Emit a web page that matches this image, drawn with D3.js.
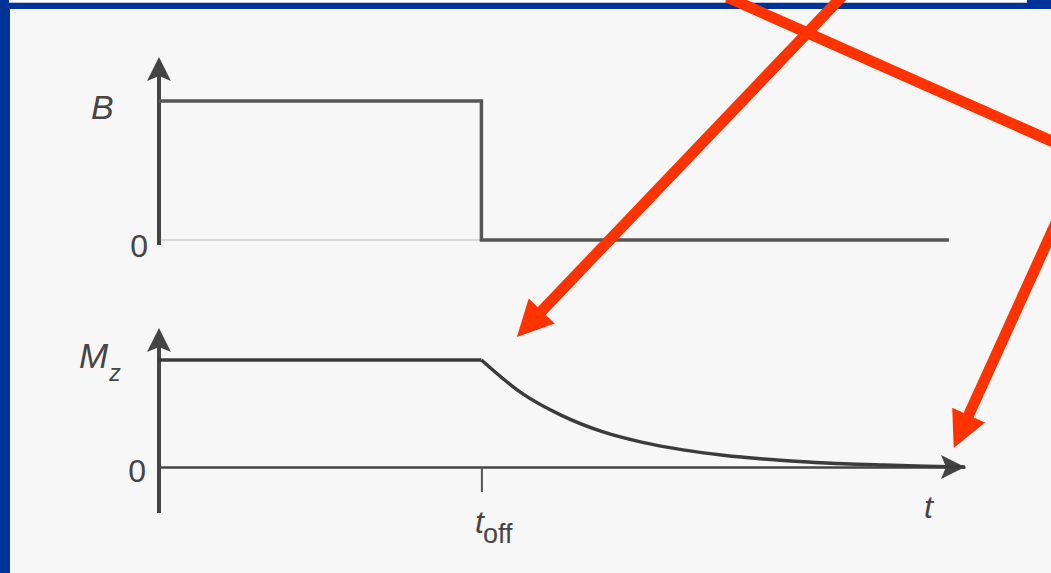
<!DOCTYPE html>
<html>
<head>
<meta charset="utf-8">
<script src="https://cdn.jsdelivr.net/npm/d3@7"></script>
<style>
  html, body { margin: 0; padding: 0; background: #f7f7f7; }
  svg { display: block; }
  text { font-family: "Liberation Sans", Arial, sans-serif; fill: #454545; }
</style>
</head>
<body>
<svg id="chart" width="1051" height="573"></svg>
<script>
// B field: on until t_off, then off
const bTimes = [0, 4, 4, 9.8]
const bValues = [1, 1, 0, 0]

// Mz: flat, then decays after t_off
const mzTimes = [0, 4, 4.5, 5, 5.5, 6, 6.5, 7, 7.5, 8, 8.5, 9, 9.5, 10]
const mzValues = [1, 1, 0.69, 0.48, 0.33, 0.23, 0.16, 0.11, 0.075, 0.05, 0.03, 0.018, 0.008, 0]

const tOff = 4
const tMax = 10

// red overlay arrows, in (t, Mz) units of the lower panel
const arrowTails = [[8.49, 4.41], [7.05, 4.39], [11.2, 2.4]]
const arrowTips = [[4.44, 1.215], [11.18, 3.01], [9.86, 0.178]]
const arrowHasHead = [true, false, true]

const svg = d3.select("#chart")
const W = 1051, H = 573
const ink = "#444"

// background + blue slide frame
svg.append("rect").attr("width", W).attr("height", H).attr("fill", "#f7f7f7")
svg.append("rect").attr("x", 0).attr("y", 0).attr("width", 10).attr("height", H).attr("fill", "#003399")
svg.append("rect").attr("x", 0).attr("y", 0).attr("width", W).attr("height", 9).attr("fill", "#003399")
svg.append("rect").attr("x", 9).attr("y", 0).attr("width", 1018).attr("height", 2.7).attr("fill", "#ffffff")

const x = d3.scaleLinear().domain([0, tMax]).range([159, 965])
const yB = d3.scaleLinear().domain([0, 1]).range([240, 101])
const yM = d3.scaleLinear().domain([0, 1]).range([467, 360])

const line = d3.line()

// arrowhead pointing up/right with a slight notch
function headUp(cx, tipY) {
    return `M${cx},${tipY} L${cx + 12},${tipY + 24} L${cx},${tipY + 19} L${cx - 12},${tipY + 24} Z`
}
function headRight(tipX, cy) {
    return `M${tipX},${cy} L${tipX - 24},${cy + 12} L${tipX - 19},${cy} L${tipX - 24},${cy - 12} Z`
}

// ---- top panel (B) ----
const panelB = svg.append("g")
panelB.append("line")
    .attr("x1", x(0)).attr("x2", x(tOff))
    .attr("y1", yB(0)).attr("y2", yB(0))
    .attr("stroke", "#cfcfcf").attr("stroke-width", 1.5)
panelB.append("line")
    .attr("x1", x(0)).attr("x2", x(0))
    .attr("y1", yB(-0.036)).attr("y2", yB(1.29))
    .attr("stroke", ink).attr("stroke-width", 4)
panelB.append("path").attr("d", headUp(x(0), yB(1.317))).attr("fill", ink)
panelB.append("path")
    .attr("d", line(bTimes.map((t, i) => [x(t), yB(bValues[i])])))
    .attr("fill", "none").attr("stroke", "#555").attr("stroke-width", 3.5)
panelB.append("text").attr("x", 91).attr("y", 119)
    .attr("font-size", 34).attr("font-style", "italic").text("B")
panelB.append("text").attr("x", 148).attr("y", 257).attr("text-anchor", "end")
    .attr("font-size", 32).text("0")

// ---- bottom panel (Mz) ----
const panelM = svg.append("g")
panelM.append("line")
    .attr("x1", x(0)).attr("x2", x(0))
    .attr("y1", yM(-0.43)).attr("y2", yM(1.26))
    .attr("stroke", ink).attr("stroke-width", 4)
panelM.append("path").attr("d", headUp(x(0), yM(1.30))).attr("fill", ink)

// time axis with only the t_off tick
const tAxis = panelM.append("g")
    .attr("transform", `translate(0,${yM(0)})`)
    .call(d3.axisBottom(x).tickValues([tOff]).tickFormat("").tickSize(25).tickSizeOuter(0))
tAxis.select(".domain").attr("stroke", ink).attr("stroke-width", 2.5)
tAxis.selectAll(".tick line").attr("stroke", "#555").attr("stroke-width", 2)
panelM.append("path").attr("d", headRight(x(tMax), yM(0))).attr("fill", ink)

const flat = mzTimes.map((t, i) => [t, mzValues[i]]).filter(d => d[0] <= tOff)
const decay = mzTimes.map((t, i) => [t, mzValues[i]]).filter(d => d[0] >= tOff)
panelM.append("path")
    .attr("d", line(flat.map(d => [x(d[0]), yM(d[1])])))
    .attr("fill", "none").attr("stroke", "#3b3b3b").attr("stroke-width", 3.5)
panelM.append("path")
    .attr("d", d3.line().curve(d3.curveMonotoneX)(decay.map(d => [x(d[0]), yM(d[1])])))
    .attr("fill", "none").attr("stroke", "#3b3b3b").attr("stroke-width", 3.5)

const mz = panelM.append("text").attr("x", 79).attr("y", 368).attr("font-size", 35).attr("font-style", "italic")
mz.append("tspan").text("M")
mz.append("tspan").attr("font-size", 23).attr("dx", 1).attr("dy", 13).text("z")
panelM.append("text").attr("x", 146).attr("y", 482).attr("text-anchor", "end")
    .attr("font-size", 32).text("0")

const toff = panelM.append("text").attr("x", 475).attr("y", 533).attr("font-size", 32)
toff.append("tspan").attr("font-style", "italic").text("t")
toff.append("tspan").attr("font-size", 27).attr("dx", -1).attr("dy", 10).text("off")
panelM.append("text").attr("x", 924).attr("y", 518).attr("font-size", 32)
    .attr("font-style", "italic").text("t")

// ---- red overlay arrows ----
const red = "#ff3300"
const ov = svg.append("g")
arrowTails.forEach((tail, i) => {
    const p0 = [x(tail[0]), yM(tail[1])]
    const p1 = [x(arrowTips[i][0]), yM(arrowTips[i][1])]
    const dx = p1[0] - p0[0], dy = p1[1] - p0[1]
    const len = Math.hypot(dx, dy)
    const ux = dx / len, uy = dy / len
    const nx = -uy, ny = ux
    const headLen = arrowHasHead[i] ? 36 : 0
    const end = [p1[0] - ux * (headLen - 4), p1[1] - uy * (headLen - 4)]
    ov.append("line")
        .attr("x1", p0[0]).attr("y1", p0[1]).attr("x2", end[0]).attr("y2", end[1])
        .attr("stroke", red).attr("stroke-width", 11)
    if (arrowHasHead[i]) {
        const bx = p1[0] - ux * headLen, by = p1[1] - uy * headLen
        ov.append("path")
            .attr("d", `M${p1[0]},${p1[1]} L${bx + nx * 18},${by + ny * 18} L${bx - nx * 18},${by - ny * 18} Z`)
            .attr("fill", red)
    }
})
</script>
</body>
</html>
